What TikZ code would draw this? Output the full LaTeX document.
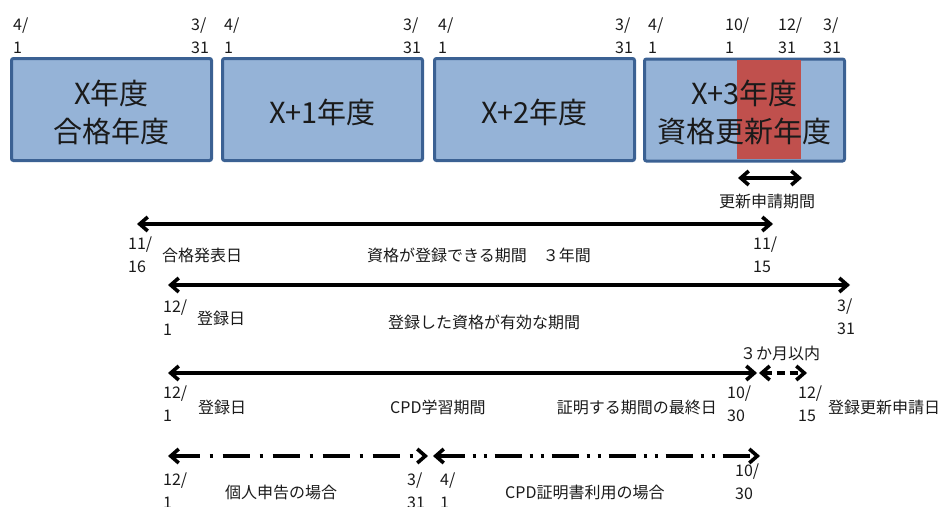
\documentclass[tikz,border=0pt]{standalone}
\usepackage{fontspec}
\setmainfont{Noto Sans CJK JP}
\usetikzlibrary{arrows.meta}
\definecolor{boxfill}{HTML}{95B3D7}
\definecolor{boxline}{HTML}{3B6193}
\definecolor{redfill}{HTML}{C0504D}
\definecolor{txt}{HTML}{1A1A1A}
\tikzset{
  box/.style={draw=boxline, line width=3pt, fill=boxfill, rounded corners=2pt,
    minimum width=200pt, minimum height=102pt, inner sep=0pt},
  bigtxt/.style={font=\fontsize{29}{38}\selectfont, align=center, text=txt, inner sep=0pt},
  datel/.style={font=\fontsize{16}{23}\selectfont, align=left, anchor=north west, inner sep=0pt, text=txt},
  lbl/.style={font=\fontsize{16}{20}\selectfont, inner sep=0pt, text=txt},
  span/.style={line width=3.2pt, draw=black,
    {Straight Barb[length=8pt,width=14pt,line width=3.6pt]}-{Straight Barb[length=8pt,width=14pt,line width=3.6pt]}},
}
\begin{document}
\begin{tikzpicture}[x=1pt,y=-1pt]
\useasboundingbox (0,0) rectangle (949,506);
% boxes
\node[box] (b1) at (111.5,109.5) {};
\node[box] (b2) at (322.5,109.5) {};
\node[box] (b3) at (534.5,109.5) {};
\node[box] (b4) at (744.5,110) {};
\fill[redfill] (737,60) rectangle (801,158.5);
\node[bigtxt] (t1) at (111.5,112) {X年度\\合格年度};
\node[bigtxt] (t2) at (322.5,112) {X+1年度};
\node[bigtxt] (t3) at (534.5,112) {X+2年度};
\node[bigtxt] (t4) at (744.5,112) {X+3年度\\資格更新年度};
% top date labels
\node[datel] (d1) at (13,18) {4/\\1};
\node[datel] (d2) at (191,18) {3/\\31};
\node[datel] (d3) at (224,18) {4/\\1};
\node[datel] (d4) at (403,18) {3/\\31};
\node[datel] (d5) at (438,18) {4/\\1};
\node[datel] (d6) at (615,18) {3/\\31};
\node[datel] (d7) at (648,18) {4/\\1};
\node[datel] (d8) at (725,18) {10/\\1};
\node[datel] (d9) at (778,18) {12/\\31};
\node[datel] (d10) at (823,18) {3/\\31};
% renewal application period
\coordinate (r1) at (738,178);
\coordinate (r2) at (802,178);
\draw[span] (r1) -- (r2);
\node[lbl] (rl) at (767,201) {更新申請期間};
% arrow 1
\coordinate (a1s) at (137,224);
\coordinate (a1e) at (773,224);
\draw[span] (a1s) -- (a1e);
\node[datel] (l11) at (128,237) {11/\\16};
\node[lbl, anchor=west] (l12) at (162,255) {合格発表日};
\node[lbl, anchor=west] (l13) at (367,255) {資格が登録できる期間　３年間};
\node[datel] (l14) at (753,237) {11/\\15};
% arrow 2
\coordinate (a2s) at (168,285);
\coordinate (a2e) at (850,285);
\draw[span] (a2s) -- (a2e);
\node[datel] (l21) at (163,300) {12/\\1};
\node[lbl, anchor=west] (l22) at (197,318) {登録日};
\node[lbl, anchor=west] (l23) at (388,322) {登録した資格が有効な期間};
\node[datel] (l24) at (837,299) {3/\\31};
% arrow 3
\coordinate (a3s) at (168,373);
\coordinate (a3e) at (757,373);
\draw[span] (a3s) -- (a3e);
\coordinate (a3bs) at (759,373);
\coordinate (a3be) at (807,373);
\draw[span, dash pattern=on 8pt off 5pt] (a3bs) -- (a3be);
\node[lbl] (l30) at (780,353) {３か月以内};
\node[datel] (l31) at (163,386) {12/\\1};
\node[lbl, anchor=west] (l32) at (198,407) {登録日};
\node[lbl, anchor=west] (l33) at (390,407) {CPD学習期間};
\node[lbl, anchor=east] (l34) at (717,407) {証明する期間の最終日};
\node[datel] (l35) at (727,386) {10/\\30};
\node[datel] (l36) at (798,386) {12/\\15};
\node[lbl, anchor=west] (l37) at (828,407) {登録更新申請日};
% arrows 4,5
\coordinate (a4s) at (168,456);
\coordinate (a4e) at (428,456);
\draw[span, dash pattern=on 27pt off 10pt on 3pt off 10pt] (a4s) -- (a4e);
\coordinate (a5s) at (433,456);
\coordinate (a5e) at (760,456);
\draw[span, dash pattern=on 27pt off 8pt on 3pt off 8pt on 3pt off 8pt] (a5s) -- (a5e);
\node[datel] (l41) at (163,473) {12/\\1};
\node[lbl, anchor=west] (l42) at (225,492) {個人申告の場合};
\node[datel] (l43) at (407,473) {3/\\31};
\node[datel] (l44) at (440,473) {4/\\1};
\node[lbl, anchor=west] (l45) at (505,492) {CPD証明書利用の場合};
\node[datel] (l46) at (735,464) {10/\\30};
\end{tikzpicture}
\end{document}
